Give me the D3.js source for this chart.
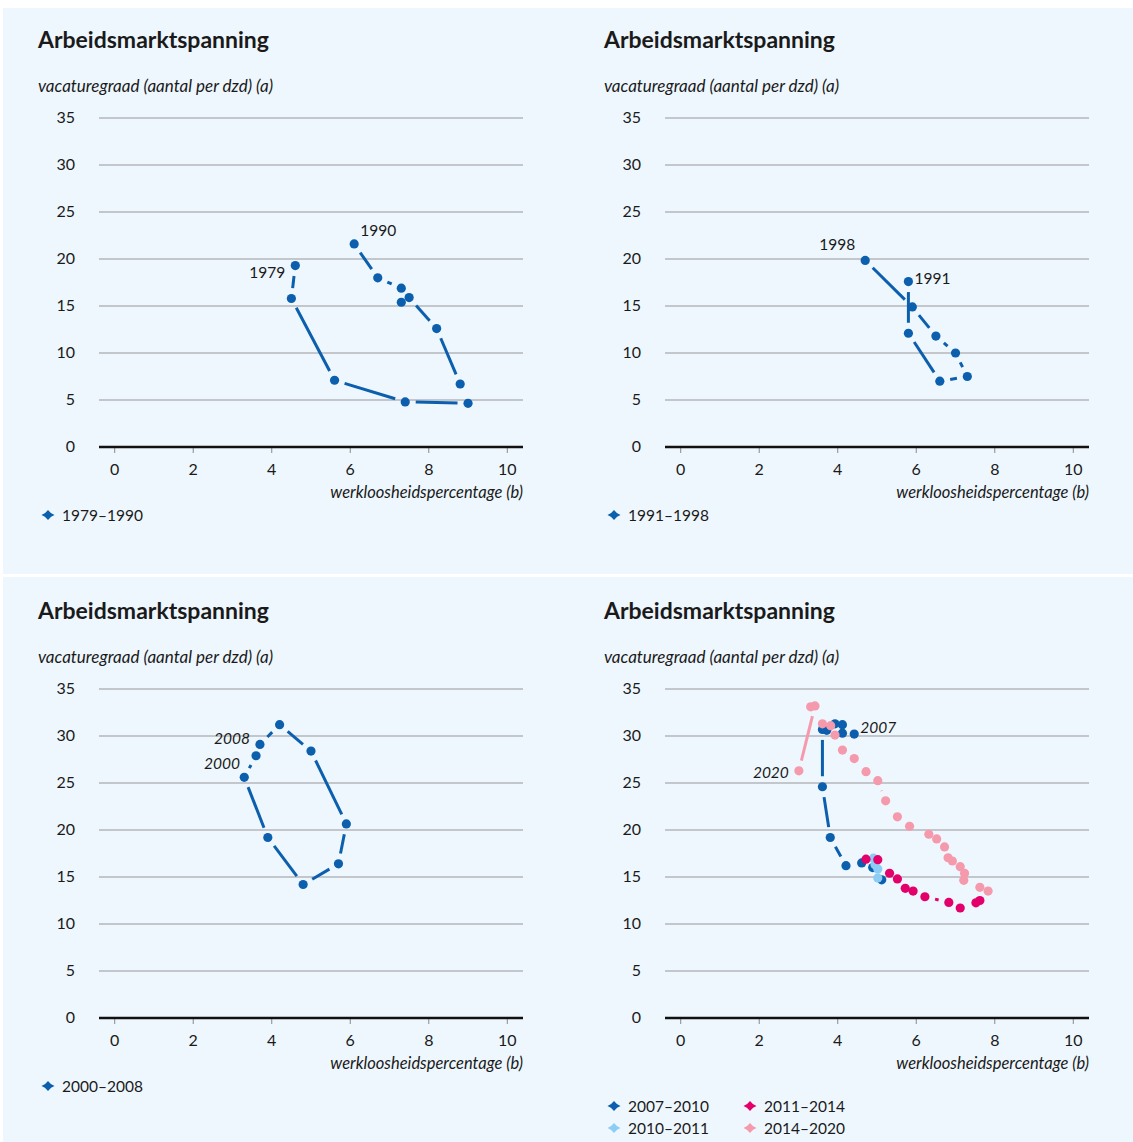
<!DOCTYPE html>
<html>
<head>
<meta charset="utf-8">
<script src="https://cdn.jsdelivr.net/npm/d3@7"></script>
<style>
  body { margin: 0; background: #fff; }
  svg text { font-family: Lato, "Noto Sans", sans-serif; fill: #1a1a1a; }
</style>
</head>
<body>
<svg id="chart" width="1133" height="1142"></svg>
<script>
// ticks
const xTicks = [0, 2, 4, 6, 8, 10];
const yTicks = [0, 5, 10, 15, 20, 25, 30, 35];

// werkloosheid (b), vacaturegraad (a)
const s1979_1990 = [[4.6, 19.3], [4.5, 15.8], [5.6, 7.1], [7.4, 4.8], [9.0, 4.65], [8.8, 6.7],
  [8.2, 12.6], [7.5, 15.9], [7.3, 15.4], [7.3, 16.9], [6.7, 18.0], [6.1, 21.6]];
const s1991_1998 = [[5.8, 17.6], [5.8, 12.1], [6.6, 7.0], [7.3, 7.5], [7.0, 10.0], [6.5, 11.8],
  [5.9, 14.9], [4.7, 19.85]];
const s2000_2008 = [[3.6, 27.9], [3.3, 25.6], [3.9, 19.2], [4.8, 14.2], [5.7, 16.4], [5.9, 20.65],
  [5.0, 28.4], [4.2, 31.2], [3.7, 29.1]];
const s2007_2010 = [[4.42, 30.2], [4.12, 30.3], [4.12, 31.2], [3.93, 31.3], [3.72, 30.6], [3.61, 30.7],
  [3.61, 24.6], [3.81, 19.2], [4.21, 16.2], [4.61, 16.5], [4.89, 16.0], [5.12, 14.7]];
const s2010_2011 = [[5.02, 14.9], [5.02, 15.85], [4.95, 16.3], [4.91, 17.0]];
const s2011_2014 = [[4.72, 16.9], [5.02, 16.84], [5.32, 15.4], [5.52, 14.8], [5.72, 13.8], [5.92, 13.5],
  [6.22, 12.9], [6.83, 12.3], [7.12, 11.7], [7.52, 12.25], [7.62, 12.5]];
const s2014_2020 = [[7.83, 13.5], [7.62, 13.9], [7.21, 14.65], [7.23, 15.4], [7.12, 16.1], [6.92, 16.7],
  [6.81, 17.05], [6.72, 18.2], [6.52, 19.05], [6.32, 19.55], [5.83, 20.4], [5.52, 21.4], [5.22, 23.1],
  [5.02, 25.25], [4.72, 26.2], [4.42, 27.6], [4.12, 28.5], [3.93, 30.1], [3.82, 31.1], [3.61, 31.3],
  [3.31, 33.1], [3.42, 33.2], [3.01, 26.3]];

const colors = {
  "1979–1990": "#0b5fad", "1991–1998": "#0b5fad", "2000–2008": "#0b5fad",
  "2007–2010": "#0b5fad", "2010–2011": "#8dcdf5", "2011–2014": "#e3006b", "2014–2020": "#f59aac"
};

const panels = [
  { ox: 0, oy: 0, series: [["1979–1990", s1979_1990]],
    labels: [{ text: "1979", s: 0, i: 0, side: "left", dy: 12 }, { text: "1990", s: 0, i: 11, side: "right", dy: -8 }] },
  { ox: 566, oy: 0, series: [["1991–1998", s1991_1998]],
    labels: [{ text: "1991", s: 0, i: 0, side: "right", dy: 2 }, { text: "1998", s: 0, i: 7, side: "left", dy: -10 }] },
  { ox: 0, oy: 571, series: [["2000–2008", s2000_2008]],
    labels: [{ text: "2008", s: 0, i: 8, side: "left", dy: 0, italic: true }, { text: "2000", s: 0, i: 0, side: "left", dy: 13, italic: true, dx: -6 }] },
  { ox: 566, oy: 571, series: [["2007–2010", s2007_2010], ["2010–2011", s2010_2011], ["2011–2014", s2011_2014], ["2014–2020", s2014_2020]],
    labels: [{ text: "2007", s: 0, i: 0, side: "right", dy: -1, italic: true }, { text: "2020", s: 3, i: 22, side: "left", dy: 7, italic: true }] }
];

const svg = d3.select("#chart");

// backgrounds
svg.append("rect").attr("x", 3).attr("y", 8).attr("width", 1130).attr("height", 566).attr("fill", "#eef7fe");
svg.append("rect").attr("x", 3).attr("y", 577).attr("width", 1130).attr("height", 565).attr("fill", "#eef7fe");

const x = d3.scaleLinear().domain([-0.4, 10.4]).range([99, 523]);
const y = d3.scaleLinear().domain([0, 35]).range([447, 118]);
const gap = 10.5;

function diamond(g, cx, cy, color) {
  g.append("path")
    .attr("d", `M${cx - 6.5},${cy} Q${cx - 3},${cy - 1} ${cx},${cy - 5} Q${cx + 3},${cy - 1} ${cx + 6.5},${cy} Q${cx + 3},${cy + 1} ${cx},${cy + 5} Q${cx - 3},${cy + 1} ${cx - 6.5},${cy}Z`)
    .attr("fill", color);
}

panels.forEach((p) => {
  const g = svg.append("g").attr("transform", `translate(${p.ox},${p.oy})`);

  g.append("text").attr("x", 38).attr("y", 48).style("font-size", "23px").style("font-weight", "bold")
    .text("Arbeidsmarktspanning");
  g.append("text").attr("x", 38).attr("y", 92).style("font-size", "17px").style("font-style", "italic")
    .text("vacaturegraad (aantal per dzd) (a)");

  // horizontal grid
  g.selectAll(".grid").data(yTicks.filter((d) => d > 0)).join("line")
    .attr("x1", 99).attr("x2", 523).attr("y1", (d) => y(d)).attr("y2", (d) => y(d))
    .attr("stroke", "#989898").attr("stroke-width", 1.2);
  g.selectAll(".ylab").data(yTicks).join("text")
    .attr("x", 75).attr("y", (d) => y(d) + 5).attr("text-anchor", "end").style("font-size", "16px")
    .text((d) => d);

  // x axis
  g.selectAll(".xtick").data(xTicks).join("line")
    .attr("x1", (d) => x(d)).attr("x2", (d) => x(d)).attr("y1", y(0)).attr("y2", y(0) + 6)
    .attr("stroke", "#8a8a8a").attr("stroke-width", 1);
  g.append("line").attr("x1", 99).attr("x2", 523).attr("y1", y(0)).attr("y2", y(0))
    .attr("stroke", "#111").attr("stroke-width", 2.5);
  g.selectAll(".xlab").data(xTicks).join("text")
    .attr("x", (d) => x(d)).attr("y", y(0) + 28).attr("text-anchor", "middle").style("font-size", "16px")
    .text((d) => d);
  g.append("text").attr("x", 523).attr("y", y(0) + 51).attr("text-anchor", "end")
    .style("font-size", "16.5px").style("font-style", "italic").text("werkloosheidspercentage (b)");

  // series: trimmed connecting segments + dots
  p.series.forEach(([name, pts]) => {
    const px = pts.map((d) => [x(d[0]), y(d[1])]);
    const segs = [];
    for (let i = 1; i < px.length; i++) {
      const [x0, y0] = px[i - 1], [x1, y1] = px[i];
      const len = Math.hypot(x1 - x0, y1 - y0);
      if (len <= 2 * gap) continue;
      const ux = (x1 - x0) / len, uy = (y1 - y0) / len;
      segs.push([x0 + ux * gap, y0 + uy * gap, x1 - ux * gap, y1 - uy * gap]);
    }
    g.append("g").selectAll("line").data(segs).join("line")
      .attr("x1", (d) => d[0]).attr("y1", (d) => d[1]).attr("x2", (d) => d[2]).attr("y2", (d) => d[3])
      .attr("stroke", colors[name]).attr("stroke-width", 3);
    g.append("g").selectAll("circle").data(pts).join("circle")
      .attr("cx", (d) => x(d[0])).attr("cy", (d) => y(d[1])).attr("r", 4.6)
      .attr("fill", colors[name]);
  });

  // year labels
  p.labels.forEach((l) => {
    const pt = p.series[l.s][1][l.i];
    const cx = x(pt[0]), cy = y(pt[1]);
    g.append("text")
      .attr("x", l.side === "left" ? cx - 10 + (l.dx || 0) : cx + 6)
      .attr("y", cy + l.dy)
      .attr("text-anchor", l.side === "left" ? "end" : "start")
      .style("font-size", "15.5px").style("font-style", l.italic ? "italic" : "normal")
      .text(l.text);
  });

  // legend
  const names = p.series.map((s) => s[0]);
  names.forEach((n, i) => {
    const lx = names.length > 1 ? 48 + (i >= 2 ? 136 : 0) : 48;
    const ly = names.length > 1 ? 535 + (i % 2 === 1 ? 22 : 0) : 515;
    diamond(g, lx, ly, colors[n]);
    g.append("text").attr("x", lx + 14).attr("y", ly + 6).style("font-size", "15.5px").text(n);
  });
});
</script>
</body>
</html>
